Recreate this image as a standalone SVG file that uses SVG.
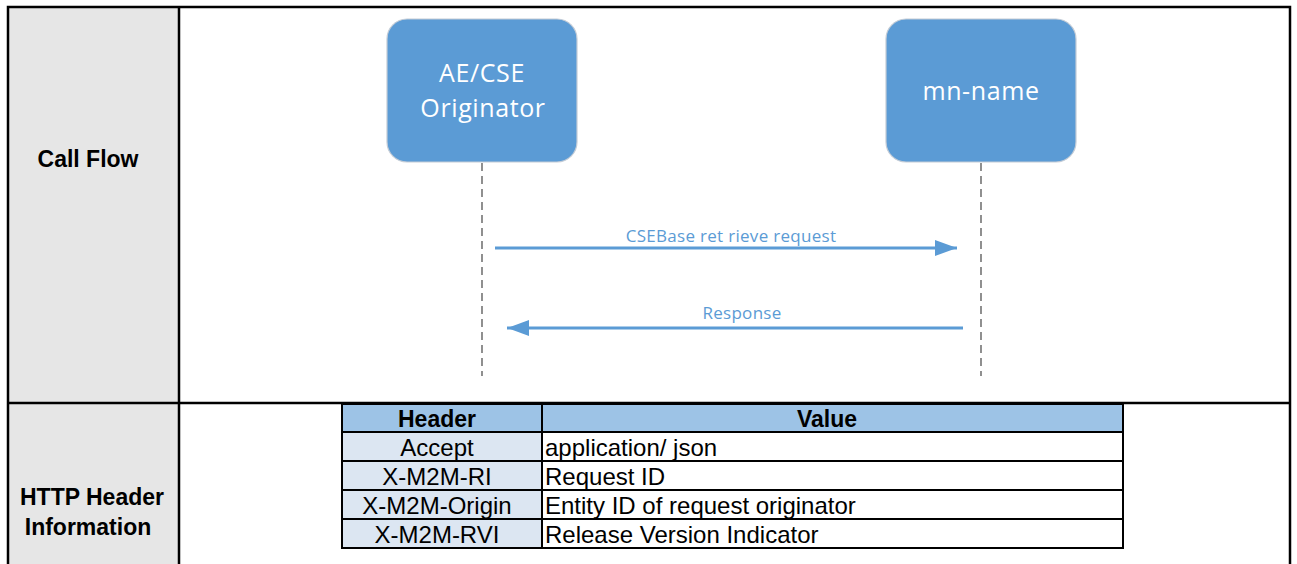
<svg xmlns="http://www.w3.org/2000/svg" width="1297" height="564" viewBox="0 0 1297 564">
  <style>
    .frame { fill: none; stroke: #000; stroke-width: 2.5; }
    .label { font-family: "Liberation Sans", Arial, sans-serif; font-weight: bold; font-size: 23px; fill: #000; text-anchor: middle; }
    .node rect { fill: #5b9bd5; stroke: #c4ccd6; stroke-width: 1.2; }
    .node text { font-family: "Open Sans", "Noto Sans", sans-serif; font-size: 25px; letter-spacing: 0.6px; fill: #fff; text-anchor: middle; }
    .lifeline { stroke: #555; stroke-width: 1.3; stroke-dasharray: 8 5; fill: none; }
    .msg { stroke: #5b9bd5; stroke-width: 3; fill: none; }
    .msgtext { font-family: "Open Sans", "Noto Sans", sans-serif; font-size: 17px; letter-spacing: 0.3px; fill: #5b9bd5; text-anchor: middle; }
    .cell { stroke: #000; stroke-width: 2; }
    .th { font-family: "Liberation Sans", Arial, sans-serif; font-weight: bold; font-size: 23px; fill: #000; text-anchor: middle; }
    .td { font-family: "Liberation Sans", Arial, sans-serif; font-size: 24px; fill: #000; }
    .tc { text-anchor: middle; }
  </style>
  <defs>
    <marker id="arrow" markerUnits="userSpaceOnUse" markerWidth="24" markerHeight="18" refX="22" refY="8" orient="auto">
      <path d="M0,0 L22,8 L0,16 Z" fill="#5b9bd5"/>
    </marker>
  </defs>

  <rect width="1297" height="564" fill="#fff"/>

  <!-- left label column -->
  <rect x="8" y="7" width="171" height="560" fill="#e6e6e6"/>
  <g id="frame">
    <path class="frame" d="M8,570 V7 H1290 V570"/>
    <line class="frame" x1="179" y1="7" x2="179" y2="570"/>
    <line class="frame" x1="8" y1="403" x2="1290" y2="403"/>
  </g>
  <text class="label" x="88" y="167">Call Flow</text>
  <text class="label" x="92" y="505">HTTP Header</text>
  <text class="label" x="88" y="535">Information</text>

  <!-- participants -->
  <g id="originator" class="node">
    <rect x="387" y="19" width="190" height="143" rx="20" ry="20"/>
    <text x="482" y="82">AE/CSE</text>
    <text x="483" y="117">Originator</text>
  </g>
  <g id="mn-name" class="node">
    <rect x="886" y="19" width="190" height="143" rx="20" ry="20"/>
    <text x="981" y="100">mn-name</text>
  </g>

  <!-- lifelines and messages -->
  <g id="connectors">
    <line class="lifeline" x1="482" y1="163" x2="482" y2="376"/>
    <line class="lifeline" x1="981" y1="163" x2="981" y2="376"/>
    <line class="msg" x1="495" y1="248" x2="957" y2="248" marker-end="url(#arrow)"/>
    <text class="msgtext" x="731" y="242">CSEBase ret rieve request</text>
    <line class="msg" x1="963" y1="328" x2="507" y2="328" marker-end="url(#arrow)"/>
    <text class="msgtext" x="742" y="319">Response</text>
  </g>

  <!-- header table -->
  <g id="header-table">
    <rect x="342" y="404" width="781" height="28" fill="#9dc3e6"/>
    <rect x="342" y="432" width="200" height="116" fill="#dce6f2"/>
    <rect class="cell" x="342" y="404" width="781" height="144" fill="none"/>
    <line class="cell" x1="542" y1="404" x2="542" y2="548"/>
    <line class="cell" x1="342" y1="432" x2="1123" y2="432"/>
    <line class="cell" x1="342" y1="461" x2="1123" y2="461"/>
    <line class="cell" x1="342" y1="490" x2="1123" y2="490"/>
    <line class="cell" x1="342" y1="519" x2="1123" y2="519"/>
    <text class="th" x="437" y="427">Header</text>
    <text class="th" x="827" y="427">Value</text>
    <text class="td tc" x="437" y="456">Accept</text>
    <text class="td tc" x="437" y="485">X-M2M-RI</text>
    <text class="td tc" x="437" y="514">X-M2M-Origin</text>
    <text class="td tc" x="437" y="543">X-M2M-RVI</text>
    <text class="td" x="545" y="456">application/ json</text>
    <text class="td" x="545" y="485">Request ID</text>
    <text class="td" x="545" y="514">Entity ID of request originator</text>
    <text class="td" x="545" y="543">Release Version Indicator</text>
  </g>
</svg>
